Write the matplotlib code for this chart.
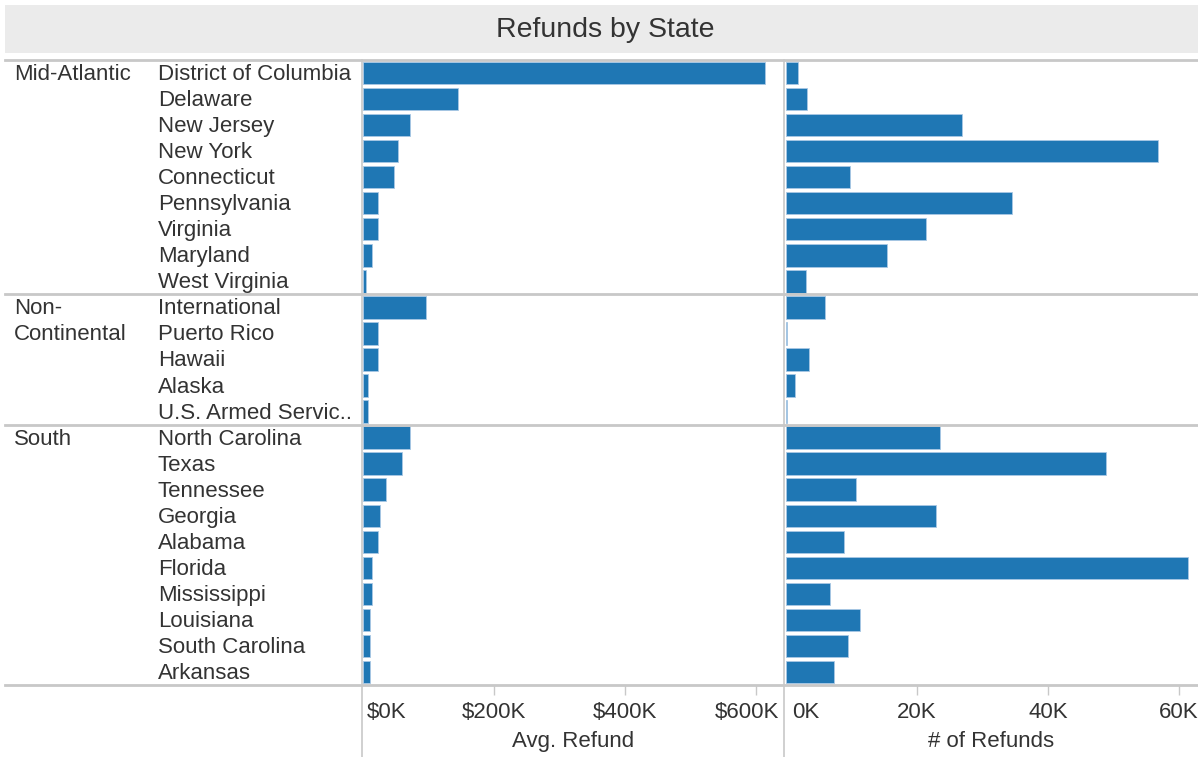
import matplotlib
matplotlib.use("Agg")
import matplotlib.pyplot as plt
from matplotlib.lines import Line2D
from matplotlib.patches import Rectangle
from matplotlib.transforms import blended_transform_factory, ScaledTranslation

plt.rcParams['font.family'] = ['Liberation Sans', 'DejaVu Sans']

regions = ["Mid-Atlantic", "Non-\nContinental", "South"]
region_sizes = [9, 5, 10]
states = ["District of Columbia", "Delaware", "New Jersey", "New York", "Connecticut",
          "Pennsylvania", "Virginia", "Maryland", "West Virginia",
          "International", "Puerto Rico", "Hawaii", "Alaska", "U.S. Armed Servic..",
          "North Carolina", "Texas", "Tennessee", "Georgia", "Alabama", "Florida",
          "Mississippi", "Louisiana", "South Carolina", "Arkansas"]
avg_refund_k = [614, 145, 72, 53, 47, 23, 23, 14, 5,
                96, 23, 23, 8, 8,
                72, 60, 35, 26, 23, 14, 14, 11, 11, 11]
num_refunds_k = [1.8, 3.2, 26.9, 56.8, 9.8, 34.5, 21.4, 15.4, 3.1,
                 6.0, 0.2, 3.5, 1.4, 0.2,
                 23.5, 48.9, 10.7, 22.9, 8.9, 61.4, 6.7, 11.3, 9.5, 7.3]
left_ticks = [0, 200, 400, 600]
left_ticklabels = ["$0K", "$200K", "$400K", "$600K"]
right_ticks = [0, 20, 40, 60]
right_ticklabels = ["0K", "20K", "40K", "60K"]

W, H = 1198, 757
fig = plt.figure(figsize=(W / 100, H / 100), dpi=100)
BLUE = "#1f77b4"
TXT = "#333333"
GRID = "#c8c8c8"
FS = 16

def fx(px):
    return px / W

def fy(py):
    return 1 - py / H

top, bot = 60, 685
ax1 = fig.add_axes([fx(362), fy(bot), fx(784) - fx(362), fy(top) - fy(bot)])
ax2 = fig.add_axes([fx(785), fy(bot), fx(1198) - fx(785), fy(top) - fy(bot)])

n = len(states)
ypos = list(range(n))
ax1.barh(ypos, avg_refund_k, height=0.86, color=BLUE, edgecolor="#a9c8e4", linewidth=0.6)
ax2.barh(ypos, num_refunds_k, height=0.86, color=BLUE, edgecolor="#a9c8e4", linewidth=0.6)
ax1.set_xlim(-1.5, 643)
ax2.set_xlim(-0.15, 62.9)
for ax in (ax1, ax2):
    ax.set_ylim(n - 0.5, -0.5)
    ax.set_yticks([])
    for s in ax.spines.values():
        s.set_visible(False)
    ax.tick_params(axis='x', direction='out', length=7, width=1, color=GRID,
                   labelsize=FS, labelcolor=TXT, pad=5)
    ax.patch.set_alpha(0)

ax1.set_xticks(left_ticks, left_ticklabels)
ax2.set_xticks(right_ticks, right_ticklabels)
ax1.set_xlabel("Avg. Refund", fontsize=FS, color=TXT, labelpad=6)
ax2.set_xlabel("# of Refunds", fontsize=FS, color=TXT, labelpad=6)

def shift(lbl, dx_px):
    lbl.set_transform(lbl.get_transform() + ScaledTranslation(dx_px / 100, 0, fig.dpi_scale_trans))

l1 = ax1.get_xticklabels()
l1[0].set_ha("left"); shift(l1[0], 4)
l1[-1].set_ha("right"); shift(l1[-1], 23)
l2 = ax2.get_xticklabels()
l2[0].set_ha("left"); shift(l2[0], 6)
ax1.xaxis.get_major_ticks()[0].tick1line.set_visible(False)
ax2.xaxis.get_major_ticks()[0].tick1line.set_visible(False)

# title band
fig.patches.append(Rectangle((fx(5), fy(53)), fx(1198) - fx(5), fy(5) - fy(53),
                             transform=fig.transFigure, facecolor="#ebebeb",
                             edgecolor="none", zorder=0))
fig.text(fx(605), fy(30), "Refunds by State", ha="center", va="center",
         fontsize=20.5, color=TXT)

# state and region labels
tr = blended_transform_factory(fig.transFigure, ax1.transData)
yoff = ScaledTranslation(0, -1.5 / 100, fig.dpi_scale_trans)
for i, s in enumerate(states):
    fig.text(fx(158), i, s, transform=tr + yoff, ha="left", va="center", fontsize=FS, color=TXT)
start = 0
sep_rows = [-0.5]
for r, sz in zip(regions, region_sizes):
    for j, part in enumerate(r.split("\n")):
        fig.text(fx(14), start + j, part, transform=tr + yoff, ha="left", va="center",
                 fontsize=FS, color=TXT)
    start += sz
    sep_rows.append(start - 0.5)

for yr in sep_rows:
    fig.add_artist(Line2D([fx(5), fx(1198)], [yr, yr], transform=tr,
                          color=GRID, linewidth=2, zorder=5))

for xp in (362, 784):
    fig.add_artist(Line2D([fx(xp), fx(xp)], [fy(60), 0], transform=fig.transFigure,
                          color=GRID, linewidth=1.2, zorder=5))

fig.savefig("out.png", dpi=100)
